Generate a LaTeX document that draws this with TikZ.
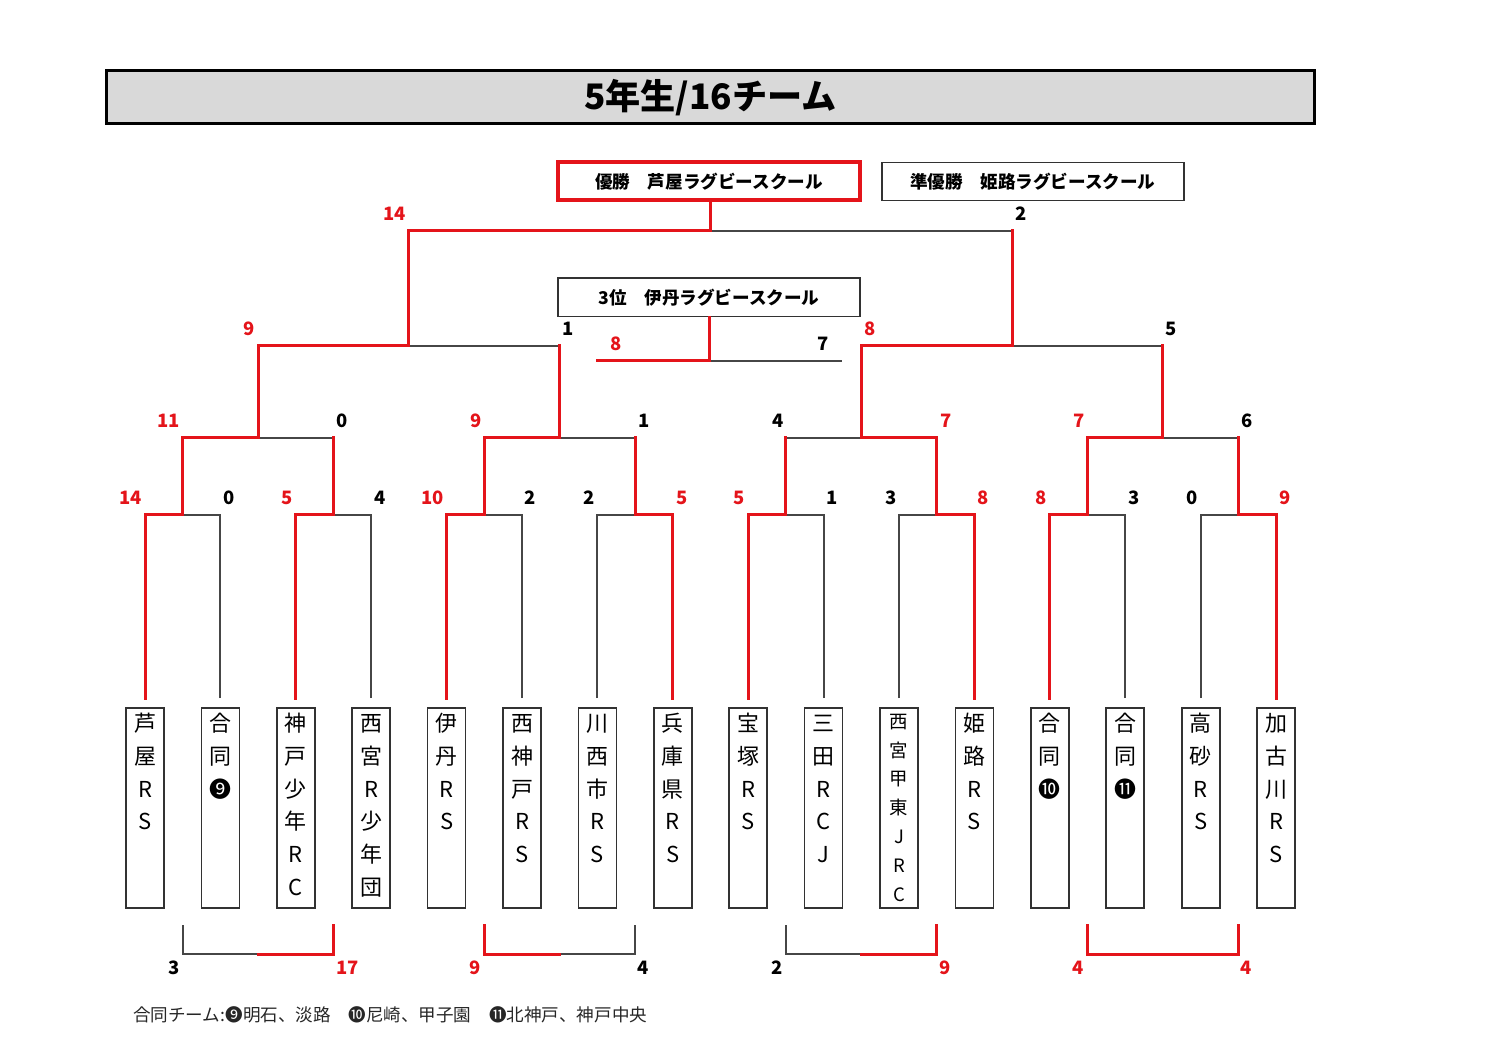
\documentclass[tikz,border=0pt]{standalone}
\usepackage{fontspec}
\setmainfont{Noto Sans CJK JP}
\usepackage{tikz}
\usetikzlibrary{calc,positioning}

\definecolor{winred}{RGB}{228,20,26}
\definecolor{linegray}{RGB}{70,70,70}
\definecolor{boxgray}{RGB}{50,50,50}
\definecolor{headgray}{RGB}{217,217,217}

\newcommand{\tname}[1]{\parbox[c][38.4mm][t]{7mm}{\centering\rule{0pt}{0.88em}#1}}

\begin{document}
\begin{tikzpicture}[x=0.2mm,y=0.2mm,node distance=7.48mm]
  \tikzstyle{headbox}=[draw=black,line width=0.6mm,fill=headgray,minimum width=241.4mm,minimum height=10.6mm,font=\bfseries\fontsize{20}{24}\selectfont]
  \tikzstyle{resbox}=[draw=boxgray,line width=0.3mm,minimum width=60.4mm,minimum height=7.6mm,font=\bfseries\fontsize{10}{12}\selectfont]
  \tikzstyle{team}=[draw=boxgray,line width=0.35mm,minimum width=7.6mm,minimum height=40mm,inner xsep=0pt,inner ysep=0.8mm,outer sep=0pt,font=\fontsize{12.5}{18.7}\selectfont]
  \tikzstyle{win}=[draw=winred,text=winred,line width=0.6mm,line cap=rect]
  \tikzstyle{lose}=[draw=linegray,text=black,line width=0.38mm]
  \tikzstyle{elbow}=[to path={|- (\tikztotarget) \tikztonodes}]
  \tikzstyle{leaf}=[elbow,shorten <=2mm]
  \tikzstyle{sc}=[font=\bfseries\fontsize{10.5}{12}\selectfont,inner sep=0pt,pos=.5]
  \tikzstyle{lsc}=[sc,anchor=east,shift={(-0.3mm,3.4mm)}]
  \tikzstyle{rsc}=[sc,anchor=west,shift={(0.4mm,3.4mm)}]
  \tikzstyle{lbot}=[sc,anchor=east,shift={(-0.5mm,-2.8mm)}]
  \tikzstyle{rbot}=[sc,anchor=west,shift={(0.2mm,-2.8mm)}]

  \useasboundingbox (0,0) rectangle (1500,1060);

  \node[headbox] (title) at (710.5,962.5) {5年生/16チーム};
  \node[resbox,draw=winred,line width=0.8mm] (champ) at (709,878.5) {優勝　芦屋ラグビースクール};
  \node[resbox] (second) [right=3.8mm of champ] {準優勝　姫路ラグビースクール};
  \node[resbox] (third) [below=15mm of champ] {3位　伊丹ラグビースクール};

  \node[team] (t1) at (145,252) {\tname{芦\\屋\\R\\S}};
  \node[team] (t2) [right=of t1] {\tname{合\\同\\❾}};
  \node[team] (t3) [right=of t2] {\tname{神\\戸\\少\\年\\R\\C}};
  \node[team] (t4) [right=of t3] {\tname{西\\宮\\R\\少\\年\\団}};
  \node[team] (t5) [right=of t4] {\tname{伊\\丹\\R\\S}};
  \node[team] (t6) [right=of t5] {\tname{西\\神\\戸\\R\\S}};
  \node[team] (t7) [right=of t6] {\tname{川\\西\\市\\R\\S}};
  \node[team] (t8) [right=of t7] {\tname{兵\\庫\\県\\R\\S}};
  \node[team] (t9) [right=of t8] {\tname{宝\\塚\\R\\S}};
  \node[team] (t10) [right=of t9] {\tname{三\\田\\R\\C\\J}};
  \node[team,font=\fontsize{10.5}{16.4}\selectfont] (t11) [right=of t10] {\tname{西\\宮\\甲\\東\\J\\R\\C}};
  \node[team] (t12) [right=of t11] {\tname{姫\\路\\R\\S}};
  \node[team] (t13) [right=of t12] {\tname{合\\同\\❿}};
  \node[team] (t14) [right=of t13] {\tname{合\\同\\⓫}};
  \node[team] (t15) [right=of t14] {\tname{高\\砂\\R\\S}};
  \node[team] (t16) [right=of t15] {\tname{加\\古\\川\\R\\S}};

  \coordinate (r1) at ($(t1.north)!.5!(t2.north)+(0,193)$);
  \coordinate (r2) at ($(t3.north)!.5!(t4.north)+(0,193)$);
  \coordinate (r3) at ($(t5.north)!.5!(t6.north)+(0,193)$);
  \coordinate (r4) at ($(t7.north)!.5!(t8.north)+(0,193)$);
  \coordinate (r5) at ($(t9.north)!.5!(t10.north)+(0,193)$);
  \coordinate (r6) at ($(t11.north)!.5!(t12.north)+(0,193)$);
  \coordinate (r7) at ($(t13.north)!.5!(t14.north)+(0,193)$);
  \coordinate (r8) at ($(t15.north)!.5!(t16.north)+(0,193)$);
  \coordinate (q1) at ($(r1)!.5!(r2)+(0,77)$);
  \coordinate (q2) at ($(r3)!.5!(r4)+(0,77)$);
  \coordinate (q3) at ($(r5)!.5!(r6)+(0,77)$);
  \coordinate (q4) at ($(r7)!.5!(r8)+(0,77)$);
  \coordinate (s1) at ($(q1)!.5!(q2)+(0,92)$);
  \coordinate (s2) at ($(q3)!.5!(q4)+(0,92)$);
  \coordinate (f)  at ($(s1)!.5!(s2)+(0,115)$);
  \coordinate (tpl) at (597,699);
  \coordinate (tpr) at (842,699);
  \coordinate (b1) at ($(r1)+(0,-410)$);
  \coordinate (b2) at ($(r2)+(0,-410)$);
  \coordinate (b3) at ($(r3)+(0,-410)$);
  \coordinate (b4) at ($(r4)+(0,-410)$);
  \coordinate (b5) at ($(r5)+(0,-410)$);
  \coordinate (b6) at ($(r6)+(0,-410)$);
  \coordinate (b7) at ($(r7)+(0,-410)$);
  \coordinate (b8) at ($(r8)+(0,-410)$);
  \coordinate (c1) at ($(q1)+(0,-516)$);
  \coordinate (c2) at ($(q2)+(0,-516)$);
  \coordinate (c3) at ($(q3)+(0,-516)$);
  \coordinate (c4) at ($(q4)+(0,-516)$);

  \path (t2.north) edge[lose,leaf] node[rsc] {0} (r1)
        (t4.north) edge[lose,leaf] node[rsc] {4} (r2)
        (t6.north) edge[lose,leaf] node[rsc] {2} (r3)
        (t7.north) edge[lose,leaf] node[lsc] {2} (r4)
        (t10.north) edge[lose,leaf] node[rsc] {1} (r5)
        (t11.north) edge[lose,leaf] node[lsc] {3} (r6)
        (t14.north) edge[lose,leaf] node[rsc] {3} (r7)
        (t15.north) edge[lose,leaf] node[lsc] {0} (r8)
        (r2) edge[lose,elbow] node[rsc] {0} (q1)
        (r4) edge[lose,elbow] node[rsc] {1} (q2)
        (r5) edge[lose,elbow] node[lsc] {4} (q3)
        (r8) edge[lose,elbow] node[rsc] {6} (q4)
        (q2) edge[lose,elbow] node[rsc] {1} (s1)
        (q4) edge[lose,elbow] node[rsc] {5} (s2)
        (s2) edge[lose,elbow] node[rsc] {2} (f)
        (third.south) edge[lose,elbow] node[sc,pos=1,shift={(-3.8mm,3.4mm)}] {7} (tpr)
        (b1) edge[lose,elbow] node[lbot] {3} (c1)
        (b4) edge[lose,elbow] node[rbot] {4} (c2)
        (b5) edge[lose,elbow] node[lbot] {2} (c3);

  \path (t1.north) edge[win,leaf] node[lsc] {14} (r1)
        (t3.north) edge[win,leaf] node[lsc] {5} (r2)
        (t5.north) edge[win,leaf] node[lsc] {10} (r3)
        (t8.north) edge[win,leaf] node[rsc] {5} (r4)
        (t9.north) edge[win,leaf] node[lsc] {5} (r5)
        (t12.north) edge[win,leaf] node[rsc] {8} (r6)
        (t13.north) edge[win,leaf] node[lsc] {8} (r7)
        (t16.north) edge[win,leaf] node[rsc] {9} (r8)
        (r1) edge[win,elbow] node[lsc] {11} (q1)
        (r3) edge[win,elbow] node[lsc] {9} (q2)
        (r6) edge[win,elbow] node[rsc] {7} (q3)
        (r7) edge[win,elbow] node[lsc] {7} (q4)
        (r2) edge[win] (r2 |- q1)
        (r4) edge[win] (r4 |- q2)
        (r5) edge[win] (r5 |- q3)
        (r8) edge[win] (r8 |- q4)
        (q1) edge[win,elbow] node[lsc] {9} (s1)
        (q3) edge[win,elbow] node[rsc] {8} (s2)
        (q2) edge[win] (q2 |- s1)
        (q4) edge[win] (q4 |- s2)
        (s1) edge[win,elbow] node[lsc] {14} (f)
        (s2) edge[win] (s2 |- f)
        (f) edge[win] (f |- champ.south)
        (third.south) edge[win,elbow] node[sc,pos=1,shift={(3.8mm,3.4mm)}] {8} (tpl)
        (b2) edge[win,elbow] node[rbot] {17} (c1)
        (b3) edge[win,elbow] node[lbot] {9} (c2)
        (b6) edge[win,elbow] node[rbot] {9} (c3)
        (b7) edge[win,elbow] node[lbot] {4} (c4)
        (b8) edge[win,elbow] node[rbot] {4} (c4);

  \node[anchor=west,font=\fontsize{10}{12}\selectfont,text=black!85] (note) at (127,45) {合同チーム:❾明石、淡路　❿尼崎、甲子園　⓫北神戸、神戸中央};
\end{tikzpicture}
\end{document}
